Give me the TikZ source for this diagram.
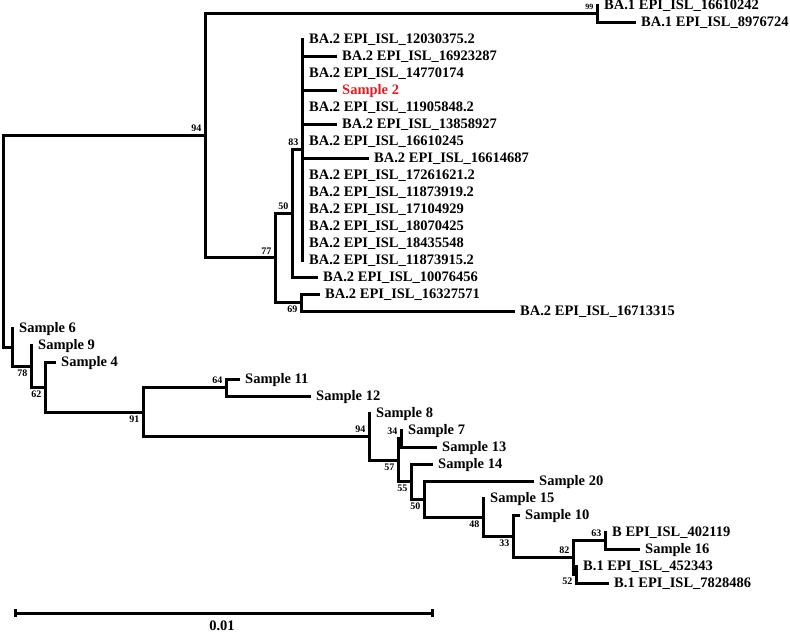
\documentclass[tikz,border=0pt]{standalone}
\usepackage{fontspec}
\setmainfont{Liberation Serif}
\definecolor{samplered}{RGB}{232,24,32}
\tikzset{
  br/.style={line width=3pt, line join=miter, line cap=rect},
  leaflab/.style={anchor=base west, inner sep=0pt, xshift=7pt, yshift=-4.9pt, font=\fontsize{14.5}{16}\selectfont\bfseries},
  bsup/.style={anchor=south east, inner sep=0pt, xshift=-3.5pt, yshift=3.5pt, font=\fontsize{10}{11}\selectfont\bfseries},
  bsdown/.style={anchor=north east, inner sep=0pt, xshift=-3.5pt, yshift=-3.5pt, font=\fontsize{10}{11}\selectfont\bfseries},
  scalelab/.style={anchor=base, inner sep=0pt, font=\fontsize{14.5}{16}\selectfont\bfseries},
}
\begin{document}
\begin{tikzpicture}[x=1pt,y=-1pt]
\useasboundingbox (0,0) rectangle (790,633);
% internal nodes
\coordinate (root) at (3,241);
\coordinate (n94) at (205,135.7);
\coordinate (n99) at (597,13.5);
\coordinate (n77) at (275,257.9);
\coordinate (n50a) at (292,213.25);
\coordinate (n83) at (302,149.5);
\coordinate (n69) at (301,302.5);
\coordinate (nA) at (12,347);
\coordinate (nB) at (31,366);
\coordinate (nC) at (45,387);
\coordinate (nD) at (143,412);
\coordinate (nE) at (226,387.5);
\coordinate (nF) at (369,436.5);
\coordinate (nG) at (398,460);
\coordinate (nH) at (401,438.5);
\coordinate (nI) at (411,481.5);
\coordinate (nJ) at (424,499);
\coordinate (nK) at (483,517.1);
\coordinate (nL) at (513,536.3);
\coordinate (nM) at (573,557.5);
\coordinate (nN) at (605,540.5);
\coordinate (nO) at (576,574.5);
% tips
\coordinate (t0) at (597,5);
\coordinate (t1) at (634,22);
\coordinate (t2) at (302,39);
\coordinate (t3) at (335,56);
\coordinate (t4) at (302,73);
\coordinate (t5) at (335,90);
\coordinate (t6) at (302,107);
\coordinate (t7) at (335,124);
\coordinate (t8) at (302,141);
\coordinate (t9) at (367,158);
\coordinate (t10) at (302,175);
\coordinate (t11) at (302,192);
\coordinate (t12) at (302,209);
\coordinate (t13) at (302,226);
\coordinate (t14) at (302,243);
\coordinate (t15) at (302,260);
\coordinate (t16) at (316,277);
\coordinate (t17) at (318,294);
\coordinate (t18) at (513,311);
\coordinate (t19) at (12,328);
\coordinate (t20) at (31,345);
\coordinate (t21) at (54,362);
\coordinate (t22) at (238,379);
\coordinate (t23) at (309,396);
\coordinate (t24) at (369,413);
\coordinate (t25) at (401,430);
\coordinate (t26) at (435,447);
\coordinate (t27) at (431,464);
\coordinate (t28) at (532,481);
\coordinate (t29) at (483,498);
\coordinate (t30) at (518,515);
\coordinate (t31) at (605,532);
\coordinate (t32) at (638,549);
\coordinate (t33) at (576,566);
\coordinate (t34) at (607,583);

% branches
\draw[br] (n94) -- (root|-n94) -- (root|-nA) -- (nA);
\draw[br] (n99) -- (n94|-n99) -- (n94|-n77) -- (n77);
\draw[br] (n99|-t0) -- (n99|-t1) -- (t1);
\draw[br] (n50a) -- (n77|-n50a) -- (n77|-n69) -- (n69);
\draw[br] (n83) -- (n50a|-n83) -- (n50a|-t16) -- (t16);
\draw[br] (n83|-t2) -- (n83|-t15);
\foreach \i in {3,5,7,9} { \draw[br] (n83|-t\i) -- (t\i); }
\draw[br] (t17) -- (n69|-t17) -- (n69|-t18) -- (t18);
\draw[br] (nA|-t19) -- (nA|-nB) -- (nB);
\draw[br] (nB|-t20) -- (nB|-nC) -- (nC);
\draw[br] (t21) -- (nC|-t21) -- (nC|-nD) -- (nD);
\draw[br] (nE) -- (nD|-nE) -- (nD|-nF) -- (nF);
\draw[br] (t22) -- (nE|-t22) -- (nE|-t23) -- (t23);
\draw[br] (nF|-t24) -- (nF|-nG) -- (nG);
\draw[br] (nH) -- (nG|-nH) -- (nG|-nI) -- (nI);
\draw[br] (nH|-t25) -- (nH|-t26) -- (t26);
\draw[br] (t27) -- (nI|-t27) -- (nI|-nJ) -- (nJ);
\draw[br] (t28) -- (nJ|-t28) -- (nJ|-nK) -- (nK);
\draw[br] (nK|-t29) -- (nK|-nL) -- (nL);
\draw[br] (t30) -- (nL|-t30) -- (nL|-nM) -- (nM);
\draw[br] (nN) -- (nM|-nN) -- (nM|-nO) -- (nO);
\draw[br] (nN|-t31) -- (nN|-t32) -- (t32);
\draw[br] (nO|-t33) -- (nO|-t34) -- (t34);

% leaf labels
\node[leaflab] (l0) at (t0) {BA.1 EPI\_ISL\_16610242};
\node[leaflab] (l1) at (t1) {BA.1 EPI\_ISL\_8976724};
\node[leaflab] (l2) at (t2) {BA.2 EPI\_ISL\_12030375.2};
\node[leaflab] (l3) at (t3) {BA.2 EPI\_ISL\_16923287};
\node[leaflab] (l4) at (t4) {BA.2 EPI\_ISL\_14770174};
\node[leaflab, text=samplered] (l5) at (t5) {Sample 2};
\node[leaflab] (l6) at (t6) {BA.2 EPI\_ISL\_11905848.2};
\node[leaflab] (l7) at (t7) {BA.2 EPI\_ISL\_13858927};
\node[leaflab] (l8) at (t8) {BA.2 EPI\_ISL\_16610245};
\node[leaflab] (l9) at (t9) {BA.2 EPI\_ISL\_16614687};
\node[leaflab] (l10) at (t10) {BA.2 EPI\_ISL\_17261621.2};
\node[leaflab] (l11) at (t11) {BA.2 EPI\_ISL\_11873919.2};
\node[leaflab] (l12) at (t12) {BA.2 EPI\_ISL\_17104929};
\node[leaflab] (l13) at (t13) {BA.2 EPI\_ISL\_18070425};
\node[leaflab] (l14) at (t14) {BA.2 EPI\_ISL\_18435548};
\node[leaflab] (l15) at (t15) {BA.2 EPI\_ISL\_11873915.2};
\node[leaflab] (l16) at (t16) {BA.2 EPI\_ISL\_10076456};
\node[leaflab] (l17) at (t17) {BA.2 EPI\_ISL\_16327571};
\node[leaflab] (l18) at (t18) {BA.2 EPI\_ISL\_16713315};
\node[leaflab] (l19) at (t19) {Sample 6};
\node[leaflab] (l20) at (t20) {Sample 9};
\node[leaflab] (l21) at (t21) {Sample 4};
\node[leaflab] (l22) at (t22) {Sample 11};
\node[leaflab] (l23) at (t23) {Sample 12};
\node[leaflab] (l24) at (t24) {Sample 8};
\node[leaflab] (l25) at (t25) {Sample 7};
\node[leaflab] (l26) at (t26) {Sample 13};
\node[leaflab] (l27) at (t27) {Sample 14};
\node[leaflab] (l28) at (t28) {Sample 20};
\node[leaflab] (l29) at (t29) {Sample 15};
\node[leaflab] (l30) at (t30) {Sample 10};
\node[leaflab] (l31) at (t31) {B EPI\_ISL\_402119};
\node[leaflab] (l32) at (t32) {Sample 16};
\node[leaflab] (l33) at (t33) {B.1 EPI\_ISL\_452343};
\node[leaflab] (l34) at (t34) {B.1 EPI\_ISL\_7828486};

% bootstrap values
\node[bsup, font=\fontsize{8}{9}\selectfont\bfseries] (b99) at (n99) {99};
\node[bsup] (b94) at (n94) {94};
\node[bsup] (b77) at (n77) {77};
\node[bsup] (b50a) at (n50a) {50};
\node[bsup] (b83) at (n83) {83};
\node[bsdown] (b69) at (n69) {69};
\node[bsdown] (b78) at (nB) {78};
\node[bsdown] (b62) at (nC) {62};
\node[bsdown] (b91) at (nD) {91};
\node[bsup] (b64) at (nE) {64};
\node[bsup] (b94b) at (nF) {94};
\node[bsup] (b34) at (nH) {34};
\node[bsdown] (b57) at (nG) {57};
\node[bsdown] (b55) at (nI) {55};
\node[bsdown] (b50b) at (nJ) {50};
\node[bsdown] (b48) at (nK) {48};
\node[bsdown] (b33) at (nL) {33};
\node[bsup] (b82) at (nM) {82};
\node[bsup] (b63) at (nN) {63};
\node[bsdown] (b52) at (nO) {52};

% scale bar
\coordinate (sbL) at (15,613);
\coordinate (sbR) at (432,613);
\draw[br, line cap=butt] (sbL) -- (sbR);
\draw[br, line cap=butt] ([yshift=4pt]sbL) -- ([yshift=-4pt]sbL);
\draw[br, line cap=butt] ([yshift=4pt]sbR) -- ([yshift=-4pt]sbR);
\node[scalelab] (sblab) at (222,630) {0.01};
\end{tikzpicture}
\end{document}
